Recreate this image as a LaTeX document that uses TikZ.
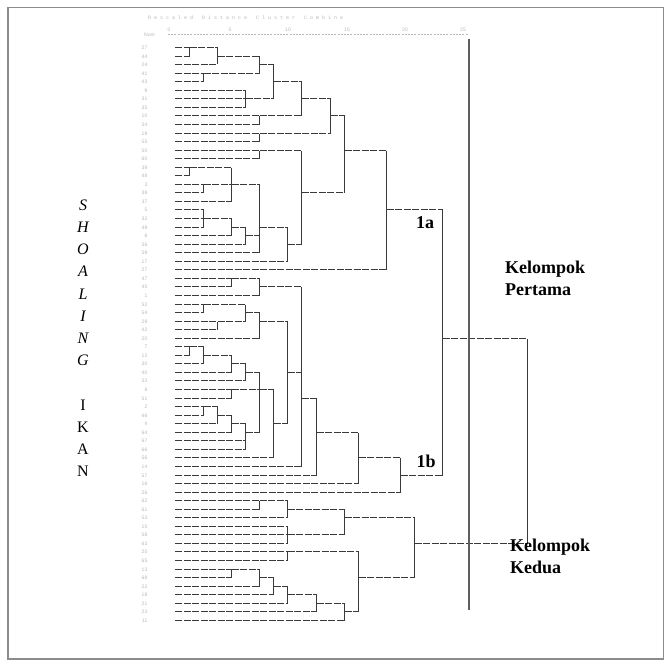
\documentclass[tikz,border=0pt]{standalone}
\usepackage{fontspec}
\setmainfont{Liberation Serif}
\setsansfont{Liberation Sans}
\setmonofont{Liberation Mono}
\begin{document}
\definecolor{treeline}{HTML}{3A3A3A}
\definecolor{cutline}{HTML}{5E5E5E}
\definecolor{faint}{HTML}{B8B8B8}
\definecolor{framec}{HTML}{8C8C8C}
% row r sits at y = 47.5 + 8.55 r, distance level k at x = 175 + 14.1 k (snapped to pixel centres)
\newcommand\rowy[1]{floor(47.5+8.55*(#1))+0.5}
\newcommand\colx[1]{floor(175+14.1*(#1))+0.5}
\newcommand\hleaf[2]{\draw[hln] (175,{\rowy{#1}}) -- ({\colx{#2}},{\rowy{#1}});}
\newcommand\hcont[3]{\draw[hln] ({\colx{#2}},{\rowy{#1}}) -- ({\colx{#3}},{\rowy{#1}});}
\newcommand\vjoin[3]{\draw[vln] ({\colx{#1}},{\rowy{#2}}) -- ({\colx{#1}},{\rowy{#3}});}
\begin{tikzpicture}[x=1pt,y=-1pt,
  hln/.style={draw=treeline, line width=1.4pt, dash pattern=on 7pt off 1.5pt},
  vln/.style={draw=treeline, line width=1.8pt},
  caselbl/.style={anchor=east, inner sep=0pt, text=faint, font=\sffamily\fontsize{5}{6}\selectfont},
  axislbl/.style={inner sep=0pt, text=faint, font=\sffamily\fontsize{5}{6}\selectfont},
  shoal/.style={inner sep=0pt, font=\fontsize{16}{18}\selectfont},
  grouplbl/.style={anchor=base west, inner sep=0pt, align=left, font=\bfseries\fontsize{18}{22}\selectfont},
  sublbl/.style={anchor=base west, inner sep=0pt, font=\bfseries\fontsize{18}{20}\selectfont}
]
\useasboundingbox (0,0) rectangle (671,666);
\fill[white] (0,0) rectangle (671,666);
\draw[framec, line width=1.2pt] (8,7.5) rectangle (663.5,659);

% heading and distance axis
\node[axislbl, anchor=west, font=\ttfamily\fontsize{5}{6}\selectfont] (head) at (148,18)
  {R e s c a l e d \ \ D i s t a n c e \ \ C l u s t e r \ \ C o m b i n e};
\foreach \v/\x in {0/169,5/230,10/288,15/347,20/405,25/463}
  \node[axislbl] (ax\v) at (\x,30) {\v};
\node[axislbl, anchor=east] (num) at (155,34.5) {Num};
\draw[faint, line width=0.6pt, dash pattern=on 2pt off 1.2pt] (168,34.5) -- (468,34.5);

% case numbers
\foreach \r/\n in {0/27,1/44,2/24,3/41,4/43,5/9,6/31,7/35,8/10,9/34,10/19,11/55,12/50,13/60,
  14/39,15/48,16/3,17/38,18/37,19/5,20/32,21/49,22/6,23/36,24/59,25/17,26/27,27/47,28/45,
  29/1,30/52,31/54,32/29,33/42,34/20,35/7,36/12,37/30,38/40,39/33,40/8,41/51,42/2,43/46,
  44/4,45/64,46/67,47/66,48/56,49/14,50/57,51/16,52/26,53/62,54/61,55/53,56/15,57/58,
  58/63,59/25,60/65,61/13,62/68,63/22,64/18,65/21,66/23,67/11}
  \node[caselbl] (c\r) at (147.5,{\rowy{\r}}) {\n};

% leaves: row / level of first merge
\foreach \r/\k in {0/1,1/1,2/3,3/2,4/2,5/5,6/5,7/5,8/6,9/6,10/6,11/6,12/6,13/6,14/1,15/1,
  16/2,17/2,18/4,19/2,20/2,21/2,22/4,23/5,24/6,25/8,26/15,
  27/4,28/4,29/6,30/2,31/2,32/3,33/3,34/6,35/1,36/1,37/2,38/4,39/5,40/4,41/4,42/2,43/2,
  44/3,45/4,46/5,47/5,48/7,49/9,50/10,51/13,52/16,
  53/6,54/6,55/8,56/8,57/8,58/8,59/8,60/8,61/4,62/4,63/6,64/7,65/8,66/10,67/12}
  {\hleaf{\r}{\k}}

% merges: level / first row / last row
\foreach \k/\a/\b in {1/0/1,3/0/2,2/3/4,6/1/3,5/5/7,7/2/6,6/8/9,9/4/8,6/10/11,11/6/10,
  6/12/13,1/14/15,2/16/17,4/14/18,2/19/21,4/20/22,5/21/23,6/16/24,8/21/25,9/12/23,
  12/8/17,15/12/26,
  4/27/28,6/27/29,2/30/31,3/32/33,5/30/32,6/31/34,1/35/36,2/35/37,4/36/38,5/37/39,
  4/40/41,2/42/43,3/42/44,4/43/45,5/44/47,6/38/45,7/40/48,8/32/44,9/28/49,10/41/50,
  13/45/51,16/48/52,19/19/50,
  6/53/54,8/53/55,8/56/58,12/54/57,8/59/60,4/61/62,6/61/63,7/62/64,8/63/65,10/64/66,
  12/65/67,13/59/66,17/55/62,25/34/58}
  {\vjoin{\k}{\a}{\b}}

% cluster lines: row / from level / to level
\foreach \r/\a/\b in {0/1/3,1/3/6,3/2/6,2/6/7,6/5/7,4/7/9,8/6/9,6/9/11,10/6/11,8/11/12,
  12/6/9,14/1/4,16/2/4,16/4/6,20/2/4,21/4/5,22/5/6,21/6/8,23/8/9,17/9/12,12/12/15,19/15/19,
  27/4/6,28/6/9,30/2/5,32/3/5,31/5/6,32/6/8,35/1/2,36/2/4,37/4/5,38/5/6,40/4/6,42/2/3,
  43/3/4,44/4/5,45/5/6,40/6/7,44/7/8,38/8/9,41/9/10,45/10/13,48/13/16,50/16/19,34/19/25,
  53/6/8,54/8/12,57/8/12,55/12/17,59/8/13,61/4/6,62/6/7,63/7/8,64/8/10,65/10/12,66/12/13,
  62/13/17,58/17/25}
  {\hcont{\r}{\a}{\b}}

% cut line across the tree
\coordinate (cuttop) at (469,39);
\coordinate (cutbot) at (469,610);
\draw[cutline, line width=2.2pt] (cuttop) -- (cutbot);

% labels
\foreach \ch [count=\i from 0] in {S,H,O,A,L,I,N,G}
  \node[shoal] (s\i) at (83,{205+22.2*\i}) {\itshape\ch};
\foreach \ch [count=\i from 9] in {I,K,A,N}
  \node[shoal] (s\i) at (83,{205+22.2*\i}) {\ch};
\node[sublbl] (la) at (416,228.3) {1a};
\node[sublbl] (lb) at (416.5,467) {1b};
\node[grouplbl] (gp1) at (505,295) {Kelompok\\Pertama};
\node[grouplbl] (gp2) at (510,573.3) {Kelompok\\Kedua};
\end{tikzpicture}
\end{document}
